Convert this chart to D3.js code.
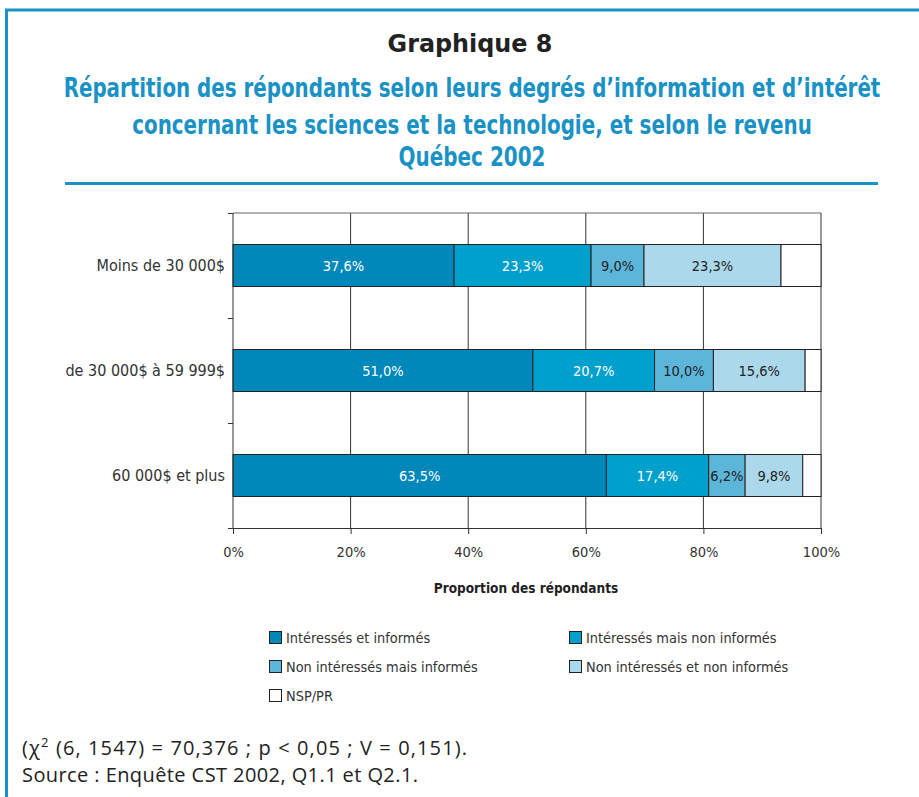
<!DOCTYPE html>
<html><head><meta charset="utf-8">
<script src="https://cdn.jsdelivr.net/npm/d3@7"></script>
<style>
html,body{margin:0;padding:0;background:#fff;}
svg{display:block;}
</style>
</head><body>
<svg id="chart" width="919" height="797"></svg>
<script>
const categories = ["Moins de 30 000$", "de 30 000$ à 59 999$", "60 000$ et plus"];
const seriesNames = ["Intéressés et informés", "Intéressés mais non informés", "Non intéressés mais informés", "Non intéressés et non informés", "NSP/PR"];
const interInfo = [37.6, 51.0, 63.5];
const interNonInfo = [23.3, 20.7, 17.4];
const nonInterInfo = [9.0, 10.0, 6.2];
const nonInterNonInfo = [23.3, 15.6, 9.8];
const nsp = [6.8, 2.7, 3.1];
const xTicks = [0, 20, 40, 60, 80, 100];
const colors = ["#0088bb", "#00a0cc", "#5cb6da", "#acd8ec", "#ffffff"];
const labelColors = ["#ffffff", "#ffffff", "#222222", "#222222", null];

const series = [interInfo, interNonInfo, nonInterInfo, nonInterNonInfo, nsp];
const rows = categories.map((c, i) => {
  const o = {cat: c};
  seriesNames.forEach((s, j) => o[s] = series[j][i]);
  return o;
});
const stacked = d3.stack().keys(seriesNames)(rows);

const svg = d3.select("#chart");
const FONT = '"Liberation Sans Narrow","DejaVu Sans Condensed",sans-serif';
const blue = "#1a92c6";

// frame
svg.append("line").attr("x1", 5).attr("x2", 919).attr("y1", 10).attr("y2", 10).attr("stroke", blue).attr("stroke-width", 3);
svg.append("line").attr("x1", 6.5).attr("x2", 6.5).attr("y1", 9).attr("y2", 797).attr("stroke", blue).attr("stroke-width", 3);

// fitted centred text (horizontal scale via transform)
function fitted(cx, cy, txt, width, size, fill, weight) {
  const t = svg.append("text").attr("x", 0).attr("y", 0).attr("text-anchor", "middle")
    .attr("font-family", FONT).attr("font-weight", weight).attr("font-size", size).attr("fill", fill).text(txt);
  const w = t.node().getComputedTextLength();
  t.attr("transform", `translate(${cx},${cy}) scale(${width / w},1)`);
  return t;
}
fitted(470, 52, "Graphique 8", 165, 25, "#222", "bold");
const sub = ["Répartition des répondants selon leurs degrés d’information et d’intérêt",
  "concernant les sciences et la technologie, et selon le revenu", "Québec 2002"];
const subLen = [817, 680, 147];
const subY = [97, 134, 166];
sub.forEach((t, i) => fitted(472, subY[i], t, subLen[i], 26, blue, "bold"));
svg.append("line").attr("x1", 65).attr("x2", 878).attr("y1", 183.5).attr("y2", 183.5).attr("stroke", blue).attr("stroke-width", 3);

// plot
const x0 = 233, x1 = 821, yTop = 213, yBot = 528;
const x = d3.scaleLinear().domain([0, 100]).range([x0, x1]);
const y = d3.scaleBand().domain(categories).range([yTop, yBot]).paddingInner(0.6).paddingOuter(0.3);

const g = svg.append("g");
// gridlines
g.selectAll(".grid").data(xTicks.slice(1)).join("line")
  .attr("x1", d => x(d)).attr("x2", d => x(d)).attr("y1", yTop).attr("y2", yBot)
  .attr("stroke", "#333").attr("stroke-width", 1);
g.append("line").attr("x1", x0).attr("x2", x1).attr("y1", yTop).attr("y2", yTop).attr("stroke", "#666").attr("stroke-width", 1);

// bars
const layer = g.selectAll(".layer").data(stacked).join("g").attr("fill", (d, i) => colors[i]);
layer.selectAll("rect").data(d => d).join("rect")
  .attr("x", d => x(d[0])).attr("width", d => x(d[1]) - x(d[0]))
  .attr("y", d => y(d.data.cat)).attr("height", y.bandwidth())
  .attr("stroke", "#222").attr("stroke-width", 1);

stacked.forEach((s, i) => {
  if (!labelColors[i]) return;
  g.selectAll(".lbl" + i).data(s).join("text")
    .attr("x", d => (x(d[0]) + x(d[1])) / 2).attr("y", d => y(d.data.cat) + y.bandwidth() / 2)
    .attr("dy", "0.35em").attr("text-anchor", "middle")
    .attr("font-family", FONT).attr("font-size", 14.5).attr("fill", labelColors[i])
    .text(d => d3.format(".1f")(d[1] - d[0]).replace(".", ",") + "%");
});

// axes
const xAxis = d3.axisBottom(x).tickValues(xTicks).tickSize(6).tickFormat(d => d + "%");
const ax = svg.append("g").attr("transform", `translate(0,${yBot})`).call(xAxis);
ax.select(".domain").attr("stroke", "#333").attr("d", `M${x0 - 5},0.5H${x1}`);
ax.selectAll(".tick line").attr("stroke", "#333");
ax.selectAll("text").attr("font-family", FONT).attr("font-size", 14.5).attr("fill", "#333").attr("dy", "1.4em");

// left axis with ticks at band boundaries
const yEdges = d3.scaleLinear().domain([0, 3]).range([yTop, yBot]);
svg.append("line").attr("x1", x0).attr("x2", x0).attr("y1", yTop).attr("y2", yBot).attr("stroke", "#333");
svg.selectAll(".ytick").data([0, 1, 2, 3]).join("line")
  .attr("x1", x0 - 5).attr("x2", x0).attr("y1", d => yEdges(d) + 0.5).attr("y2", d => yEdges(d) + 0.5).attr("stroke", "#333");
svg.selectAll(".ylab").data(categories).join("text")
  .attr("x", 225).attr("y", d => y(d) + y.bandwidth() / 2).attr("dy", "0.35em").attr("text-anchor", "end")
  .attr("font-family", FONT).attr("font-size", 16).attr("fill", "#333").text(d => d);

// x-axis title
svg.append("text").attr("x", 526).attr("y", 593).attr("text-anchor", "middle")
  .attr("font-family", FONT).attr("font-weight", "bold").attr("font-size", 13.5).attr("fill", "#222")
  .text("Proportion des répondants");

// legend
const legPos = [[269, 638], [569, 638], [269, 667], [569, 667], [269, 696]];
seriesNames.forEach((s, i) => {
  const [lx, ly] = legPos[i];
  svg.append("rect").attr("x", lx + 0.5).attr("y", ly - 6.5).attr("width", 12).attr("height", 12)
    .attr("fill", colors[i]).attr("stroke", "#222").attr("stroke-width", 1);
  svg.append("text").attr("x", lx + 17).attr("y", ly).attr("dy", "0.35em")
    .attr("font-family", FONT).attr("font-size", 14.4).attr("fill", "#333").text(s);
});

// footer
const FFONT = '"Open Sans","DejaVu Sans",sans-serif';
const foot = svg.append("text").attr("x", 22).attr("y", 755)
  .attr("font-family", FFONT).attr("font-size", 20).attr("fill", "#222")
  .attr("textLength", 445).attr("lengthAdjust", "spacing");
foot.append("tspan").text("(χ");
foot.append("tspan").attr("font-size", 13).attr("dy", -8).text("2");
foot.append("tspan").attr("dy", 8).text(" (6, 1547) = 70,376 ; p < 0,05 ; V = 0,151).");
svg.append("text").attr("x", 22).attr("y", 782)
  .attr("font-family", FFONT).attr("font-size", 20).attr("fill", "#222")
  .attr("textLength", 396).attr("lengthAdjust", "spacing")
  .text("Source : Enquête CST 2002, Q1.1 et Q2.1.");
</script>
</body></html>
